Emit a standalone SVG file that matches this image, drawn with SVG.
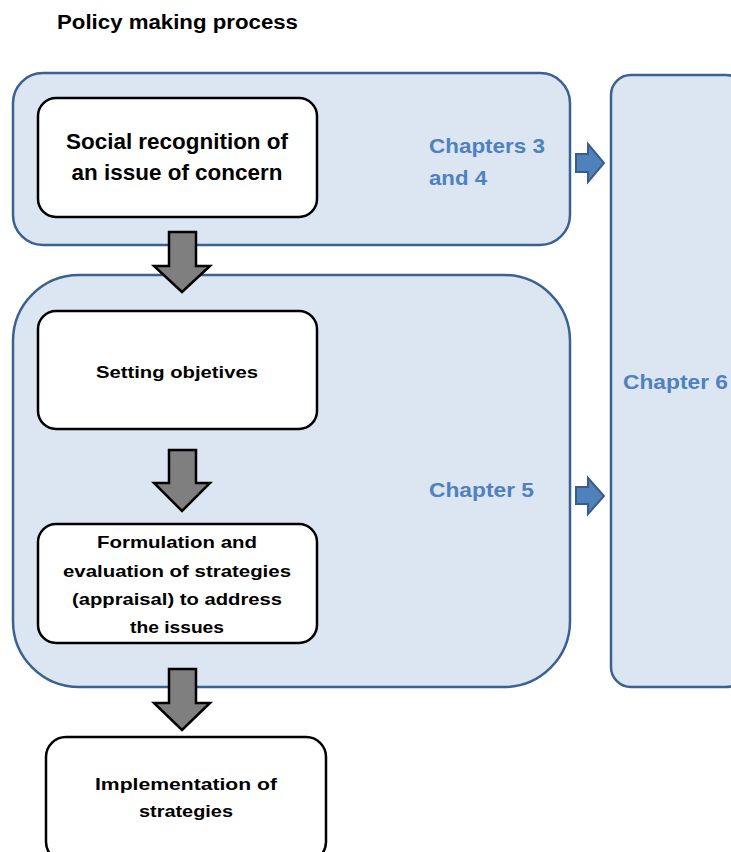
<svg xmlns="http://www.w3.org/2000/svg" width="731" height="852" viewBox="0 0 731 852">
<style>
.cont{fill:#DCE6F2;stroke:#3A6190;stroke-width:2.5}
.node{fill:#FFFFFF;stroke:#000000;stroke-width:2.5}
.garrow{fill:#7F7F7F;stroke:#000000;stroke-width:2.5;stroke-linejoin:miter}
.barrow{fill:#4F81BD;stroke:#385D8A;stroke-width:2}
text{font-family:"Liberation Sans",Arial,sans-serif;font-weight:bold}
.t{fill:#000000;text-anchor:middle}
.ch{fill:#4F81BD}
</style>
<rect width="731" height="852" fill="#FFFFFF"/>
<text id="title" x="57" y="29" font-size="20" textLength="241" lengthAdjust="spacingAndGlyphs">Policy making process</text>

<g id="group-ch34">
<rect class="cont" x="13" y="73" width="557" height="172" rx="30" ry="30"/>
<text class="ch" x="429" y="153" font-size="21" textLength="116" lengthAdjust="spacingAndGlyphs">Chapters 3</text>
<text class="ch" x="429" y="185" font-size="21" textLength="58" lengthAdjust="spacingAndGlyphs">and 4</text>
</g>
<g id="group-ch5">
<rect class="cont" x="13" y="275" width="557" height="412" rx="66" ry="66"/>
<text class="ch" x="429" y="497" font-size="21" textLength="105" lengthAdjust="spacingAndGlyphs">Chapter 5</text>
</g>
<g id="group-ch6">
<rect class="cont" x="611" y="75" width="135" height="612" rx="20" ry="20"/>
<text class="ch" x="623" y="389" font-size="21" textLength="105" lengthAdjust="spacingAndGlyphs">Chapter 6</text>
</g>

<g id="node-social">
<rect class="node" x="38" y="98" width="279" height="119" rx="18" ry="18"/>
<text class="t" x="177" y="149" font-size="22.5" textLength="222" lengthAdjust="spacingAndGlyphs">Social recognition of</text>
<text class="t" x="177" y="180" font-size="22.5" textLength="211" lengthAdjust="spacingAndGlyphs">an issue of concern</text>
</g>
<g id="node-objectives">
<rect class="node" x="38" y="311" width="279" height="118" rx="18" ry="18"/>
<text class="t" x="177" y="378" font-size="17" textLength="162" lengthAdjust="spacingAndGlyphs">Setting objetives</text>
</g>
<g id="node-formulation">
<rect class="node" x="38" y="524" width="279" height="119" rx="18" ry="18"/>
<text class="t" x="177" y="548" font-size="17" textLength="160" lengthAdjust="spacingAndGlyphs">Formulation and</text>
<text class="t" x="177" y="577" font-size="17" textLength="228" lengthAdjust="spacingAndGlyphs">evaluation of strategies</text>
<text class="t" x="177" y="605" font-size="17" textLength="210" lengthAdjust="spacingAndGlyphs">(appraisal) to address</text>
<text class="t" x="177" y="633" font-size="17" textLength="94" lengthAdjust="spacingAndGlyphs">the issues</text>
</g>
<g id="node-implementation">
<rect class="node" x="46" y="737" width="280" height="125" rx="20" ry="20"/>
<text class="t" x="186" y="790" font-size="17" textLength="182" lengthAdjust="spacingAndGlyphs">Implementation of</text>
<text class="t" x="186" y="817" font-size="17" textLength="94" lengthAdjust="spacingAndGlyphs">strategies</text>
</g>

<g id="connectors">
<path class="garrow" d="M169,232 H196 V266 H210 L182,292 L154,266 H169 Z"/>
<path class="garrow" d="M169,450 H196 V483 H210 L182,511 L154,483 H169 Z"/>
<path class="garrow" d="M169,669 H196 V703 H210 L182,730 L154,703 H169 Z"/>
<path class="barrow" d="M576,154 H588 V144 L604,163 L588,182 V172 H576 Z"/>
<path class="barrow" d="M576,487 H588 V478 L604,496 L588,514 V504 H576 Z"/>
</g>
</svg>
